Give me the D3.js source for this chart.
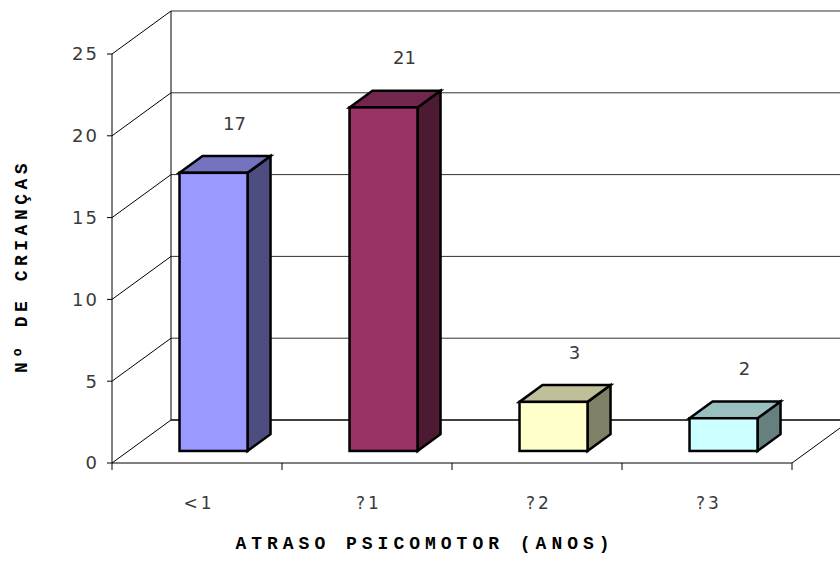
<!DOCTYPE html>
<html><head><meta charset="utf-8">
<script src="https://cdn.jsdelivr.net/npm/d3@7"></script>
<style>body{margin:0;background:#fff}svg{display:block}</style>
</head><body>
<svg id="c" width="840" height="567"></svg>
<script>
const categories = ["<1", "\u22651", "\u22652", "\u22653"];
const categoryLabels = ["<1", "?1", "?2", "?3"];
const values = [17, 21, 3, 2];
const frontColors = ["#9999FF", "#993366", "#FFFFCC", "#CCFFFF"];
const yTicks = [0, 5, 10, 15, 20, 25];
const yTitle = "Nº DE CRIANÇAS";
const xTitle = "ATRASO PSICOMOTOR (ANOS)";

const svg = d3.select("#c");
const W = 840, H = 567;
const x0 = 112, x1 = 792, yBase = 463, yTop = 54;
const DX = 59, DY = -43;
const y = d3.scaleLinear().domain([0, 25]).range([yBase, yTop]);
const x = d3.scaleBand().domain(categories).range([x0, x1]).paddingInner(0.6).paddingOuter(0.3);
const xc = d3.scaleBand().domain(categories).range([x0, x1]).padding(0);
const off = d => [d * DX, d * DY];
const sans = "DejaVu Sans, Verdana, sans-serif";
const mono = "Liberation Mono, Courier New, monospace";

const g = svg.append("g");

// back wall gridlines + left wall diagonals
yTicks.forEach(t => {
  const [ox, oy] = off(1);
  g.append("line").attr("x1", x0 + ox).attr("x2", W + 20).attr("y1", y(t) + oy).attr("y2", y(t) + oy)
    .attr("stroke", t === 0 ? "#000" : "#333").attr("stroke-width", t === 0 ? 1.6 : 1);
  g.append("line").attr("x1", x0).attr("y1", y(t)).attr("x2", x0 + ox).attr("y2", y(t) + oy)
    .attr("stroke", "#000").attr("stroke-width", 1);
});
g.append("line").attr("x1", x0 + DX).attr("x2", x0 + DX).attr("y1", y(25) + DY).attr("y2", y(0) + DY).attr("stroke", "#000");
g.append("line").attr("x1", x1).attr("y1", yBase).attr("x2", x1 + DX).attr("y2", yBase + DY).attr("stroke", "#000");

// front axes
g.append("line").attr("x1", x0).attr("x2", x0).attr("y1", y(25)).attr("y2", yBase).attr("stroke", "#000");
g.append("line").attr("x1", x0).attr("x2", x1).attr("y1", yBase).attr("y2", yBase).attr("stroke", "#000");
yTicks.forEach(t => {
  g.append("line").attr("x1", x0 - 5).attr("x2", x0).attr("y1", y(t)).attr("y2", y(t)).attr("stroke", "#000");
  g.append("text").attr("x", 99).attr("y", y(t)).attr("dy", "0.36em").attr("text-anchor", "end")
    .attr("font-family", sans).attr("font-size", 18).attr("letter-spacing", 2)
    .attr("fill", "#3a3a3a").text(t);
});
xc.domain().forEach(c => {
  g.append("line").attr("x1", xc(c)).attr("x2", xc(c)).attr("y1", yBase).attr("y2", yBase + 7).attr("stroke", "#000");
});
g.append("line").attr("x1", x1).attr("x2", x1).attr("y1", yBase).attr("y2", yBase + 7).attr("stroke", "#000");
categories.forEach((c, i) => {
  g.append("text").attr("x", xc(c) + xc.bandwidth() / 2 + 2).attr("y", 503).attr("dy", "0.36em").attr("text-anchor", "middle")
    .attr("font-family", sans).attr("font-size", 17).attr("letter-spacing", 3)
    .attr("fill", "#3a3a3a").text(categoryLabels[i]);
});

// bars
const d0 = 0.28, d1 = 0.67;
const shade = (c, k) => { const r = d3.rgb(c); return d3.rgb(r.r * k, r.g * k, r.b * k).formatHex(); };
values.forEach((v, i) => {
  const c = categories[i];
  const [fx, fy] = off(d0), [bx, by] = off(d1);
  const left = x(c) + fx, right = x(c) + x.bandwidth() + fx;
  const top = y(v) + fy, bot = y(0) + fy;
  const ddx = bx - fx, ddy = by - fy;
  const bg = g.append("g").attr("stroke", "#000").attr("stroke-width", 2.5).attr("stroke-linejoin", "miter");
  bg.append("polygon").attr("points", [[right, top], [right + ddx, top + ddy], [right + ddx, bot + ddy], [right, bot]].join(" "))
    .attr("fill", shade(frontColors[i], 0.5));
  bg.append("polygon").attr("points", [[left, top], [left + ddx, top + ddy], [right + ddx, top + ddy], [right, top]].join(" "))
    .attr("fill", shade(frontColors[i], 0.75));
  bg.append("rect").attr("x", left).attr("y", top).attr("width", right - left).attr("height", bot - top)
    .attr("fill", frontColors[i]);
  g.append("text").attr("x", (left + right) / 2 + ddx - 2).attr("y", top + ddy - 33).attr("dy", "0.36em").attr("text-anchor", "middle")
    .attr("font-family", sans).attr("font-size", 18)
    .attr("fill", "#3a3a3a").text(v);
});

// axis titles
svg.append("text").attr("transform", "translate(21,266) rotate(-90)").attr("text-anchor", "middle").attr("dy", "0.35em")
  .attr("font-family", mono).attr("font-weight", "bold").attr("font-size", 18)
  .attr("letter-spacing", 4.5).attr("fill", "#000").text(yTitle);
svg.append("text").attr("x", 425).attr("y", 543).attr("text-anchor", "middle").attr("dy", "0.35em")
  .attr("font-family", mono).attr("font-weight", "bold").attr("font-size", 18)
  .attr("letter-spacing", 5.0).attr("fill", "#000").text(xTitle);
</script>
</body></html>
